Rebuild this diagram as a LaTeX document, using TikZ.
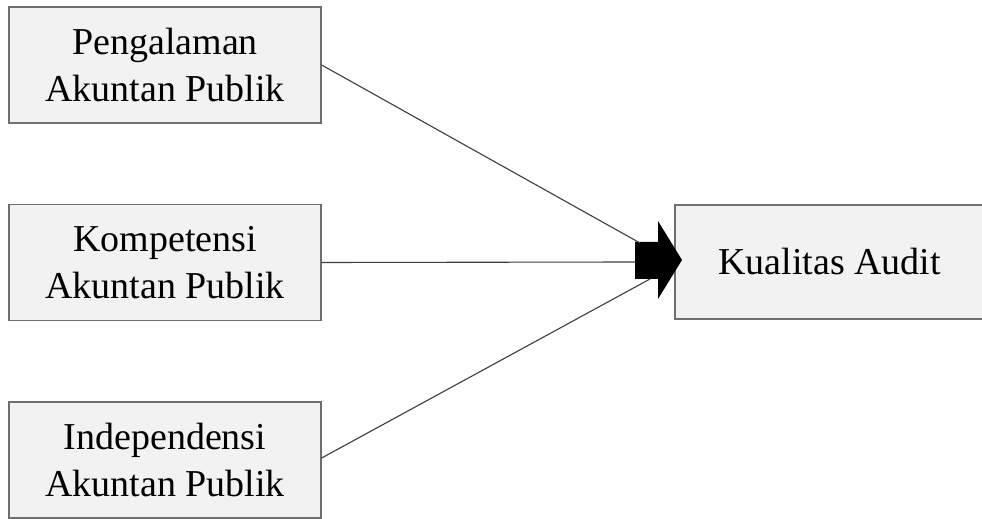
\documentclass[tikz,border=0pt]{standalone}
\usepackage{fontspec}
\setmainfont{Liberation Serif}
\usepackage{tikz}
\newcommand{\boxwidth}{156pt}
\newcommand{\boxheight}{58pt}
\usetikzlibrary{positioning}
\definecolor{boxfill}{RGB}{242,242,242}
\definecolor{boxline}{RGB}{110,110,110}
\definecolor{linkline}{RGB}{60,60,60}
\tikzset{
  font=\fontsize{19pt}{23.5pt}\selectfont,
  varbox/.style={draw=boxline,fill=boxfill,line width=0.65pt,shape=rectangle,minimum width=\boxwidth,minimum height=\boxheight,align=center,inner sep=0},
  link/.style={draw=linkline,line width=0.55pt}
}
\begin{document}
\begin{tikzpicture}[x=0.5pt,y=-0.5pt]
    \useasboundingbox (0,0) rectangle (982,519);
    \begin{scope}
      \clip (0,0) rectangle (982,519);
      \node (kualitas) [varbox,minimum width=154.5pt,minimum height=57pt] at (829.5,262) {Kualitas Audit};
    \end{scope}
    \node (pengalaman) [varbox] at (165,65) {Pengalaman\\Akuntan Publik};
    \node (kompetensi) [varbox] at (165,262.5) {Kompetensi\\Akuntan Publik};
    \node (independensi) [varbox] at (165,460) {Independensi\\Akuntan Publik};

    % block arrow into the dependent variable
    \coordinate (tailtop) at (640,243);
    \coordinate (tailmid) at (635,262);
    \coordinate (tailbot) at (650,279);
    \fill [black] (635,242) -- (658,242) -- (658,221) -- (682,260) -- (658,299) -- (658,279) -- (635,279) -- cycle;

    \path [link] (pengalaman.east |- 0,65) -- (tailtop);
    \path [link] (kompetensi.east) -- (tailmid);
    \path [link] (independensi.east |- 0,458) -- (tailbot);
\end{tikzpicture}
\end{document}
